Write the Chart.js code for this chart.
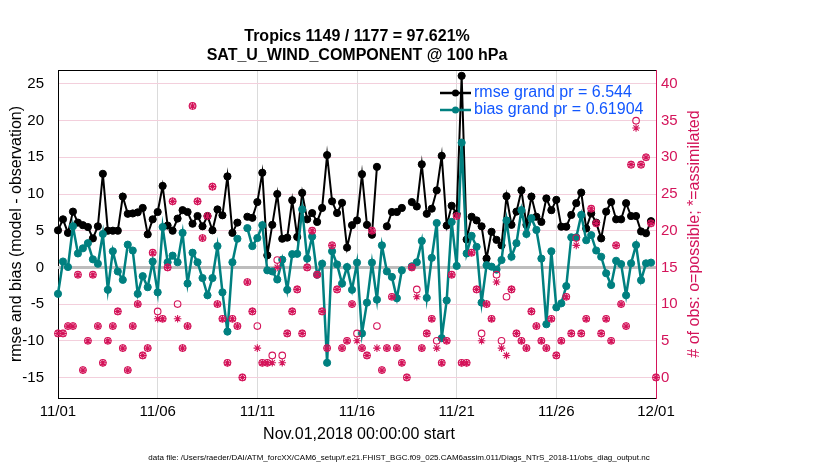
<!DOCTYPE html>
<html>
<head>
<meta charset="utf-8">
<script src="https://cdn.jsdelivr.net/npm/chart.js@4.4.1/dist/chart.umd.min.js"></script>
<style>
  html, body { margin: 0; padding: 0; background: #fff; }
  canvas { display: block; }
</style>
</head>
<body>
<canvas id="chart" width="830" height="470"></canvas>
<script>
// 6-hourly bins from 11/01 00Z to 12/01 00Z (121 bins)
const X_TICK_LABELS = ['11/01', '11/06', '11/11', '11/16', '11/21', '11/26', '12/01'];
const LEFT_TICKS = [-15, -10, -5, 0, 5, 10, 15, 20, 25];

const RMSE = [
  5.05, 6.55, 4.7, 7.6, 6.1, 5.75, 5.5, 3.95, 5.6, 12.75,
  5.0, 5.0, 5.0, 9.65, 7.3, 7.35, 7.5, 8.1, 4.5, 6.55,
  7.55, 11.1, 5.7, 5.0, 6.65, 7.8, 7.55, 5.95, 7.0, 5.6,
  7.0, 5.05, 7.9, 7.1, 12.4, 4.7, 6.1, null, 6.9, 6.75,
  8.9, 12.9, 1.65, 5.8, 10.0, 3.9, 4.05, 9.15, 4.15, 10.15,
  6.55, 7.4, 6.2, 8.1, 15.3, 9.0, 7.4, 8.8, 2.7, 5.75,
  6.4, 12.7, 5.8, 4.45, 13.7, null, 5.6, 7.55, 7.55, 8.1,
  null, 8.9, 8.3, 14.05, 7.3, 8.0, 10.5, 15.2, 5.7, 8.4,
  7.3, 26.1, 3.8, 6.9, 6.4, 5.6, 1.2, 4.85, 3.75, 3.0,
  9.7, 5.8, 7.6, 10.5, 5.8, 9.65, 6.9, 6.2, 9.4, 7.8,
  9.2, 5.55, 5.55, 7.15, 8.75, 10.2, 5.3, 7.35, 6.1, 3.95,
  7.6, 8.9, 6.55, 6.55, 8.75, 7.0, 7.0, 4.9, 4.65, 6.3,
  null
];

const BIAS = [
  -3.6, 0.8, 0.05, 5.6, 1.9, 2.6, 3.3, 1.1, 0.5, 4.55,
  -3.05, 2.2, -0.55, -1.7, 3.1, 2.3, -3.6, -1.2, -2.7, 0.8,
  -3.4, 5.5, 0.7, 1.6, 0.7, 4.7, -2.2, 2.0, 0.7, -1.45,
  -3.8, -1.45, 2.9, -3.4, -8.75, 0.7, 3.9, null, 5.35, 2.9,
  4.0, 5.75, -0.4, -0.55, -1.65, 1.05, -3.05, 1.8, 1.85, 7.9,
  1.2, 4.2, -1.0, 0.5, -13.0, 2.2, 0.4, -2.2, 0.05, -3.05,
  0.65, -9.0, -4.8, 0.65, -4.4, 3.0, -0.55, -1.3, -4.2, -0.4,
  null, 0.15, 0.7, 3.6, -4.15, 1.3, 6.05, -9.65, -4.5, 6.2,
  0.2, 17.0, 1.9, 4.3, 2.8, -4.8, 0.3, 0.1, -0.3, 1.0,
  6.4, 1.45, 3.3, 7.8, 4.55, 6.7, 5.1, 1.2, -7.75, 2.2,
  -5.45, -4.9, -2.55, 4.1, 4.1, 7.15, 3.7, 4.4, 2.3, 1.45,
  -0.8, -2.4, 0.9, 0.45, -3.8, 0.55, 3.05, -1.75, 0.55, 0.65,
  null
];

const OBS_POSSIBLE = [
  6, 6, 7, 7, 14, 1, 5, 14, 7, 2,
  5, 7, 9, 4, 1, 7, 10, 3, 4, 17,
  9, 8, 15, 24, 10, 4, 7, 37, 24, 19,
  22, 26, 10, 8, 2, 8, 7, 0, 13, 9,
  7, 2, 2, 3, 16, 3, 6, 9, 12, 6,
  15, 20, 14, 9, 4, 18, 12, 4, 5, 10,
  6, 4, 3, 20, 7, 1, 4, 11, 4, 2,
  0, 15, 12, 4, 6, 8, 5, 2, 5, 14,
  22, 2, 2, 17, 12, 6, 10, 8, 14, 5,
  11, 12, 6, 5, 4, 9, 7, 5, 4, 8,
  3, 5, 11, 6, 19, 6, 8, 23, 21, 6,
  8, 5, 18, 10, 7, 29, 35, 29, 30, 21,
  0
];

const OBS_USED = [
  6, 6, 7, 7, 14, 1, 5, 14, 7, 2,
  5, 7, 9, 4, 1, 7, 10, 3, 4, 17,
  8, 8, 15, 24, 8, 4, 7, 37, 24, 19,
  22, 26, 10, 8, 2, 8, 7, 0, 13, 9,
  4, 2, 2, 2, 15, 2, 6, 9, 12, 6,
  15, 20, 14, 9, 4, 18, 12, 4, 5, 10,
  5, 4, 3, 20, 4, 1, 4, 11, 4, 2,
  0, 15, 11, 4, 6, 8, 4, 2, 5, 14,
  22, 2, 2, 17, 12, 5, 10, 8, 13, 4,
  3, 12, 6, 5, 4, 9, 7, 5, 4, 8,
  3, 5, 11, 6, 18, 6, 8, 23, 21, 6,
  8, 5, 18, 10, 7, 29, 34, 29, 30, 21,
  0
];

const TITLE = ['Tropics 1149 / 1177 = 97.621%', 'SAT_U_WIND_COMPONENT @ 100 hPa'];
const LEGEND = ['rmse grand pr = 6.544', 'bias grand pr = 0.61904'];
const X_TITLE = 'Nov.01,2018 00:00:00 start';
const Y_TITLE = 'rmse and bias (model - observation)';
const Y1_TITLE = '# of obs: o=possible; *=assimilated';
const FOOTNOTE = 'data file: /Users/raeder/DAI/ATM_forcXX/CAM6_setup/f.e21.FHIST_BGC.f09_025.CAM6assim.011/Diags_NTrS_2018-11/obs_diag_output.nc';

const FONT = '"Liberation Sans", Arial, Helvetica, sans-serif';
const CRIMSON = '#d4145a';
const TEAL = '#008080';
const LEGEND_BLUE = '#1257ff';

// x in days since 11/01 00Z, one bin every 6 hours
const toPoints = (values) => values.map((v, i) => ({ x: i / 4, y: v }));

const decorations = {
    id: 'decorations',
    beforeDatasetsDraw(chart) {
        const { ctx, chartArea: a, scales } = chart;
        const y0 = scales.y.getPixelForValue(0);
        ctx.save();
        ctx.strokeStyle = '#bdbdbd';
        ctx.lineWidth = 3;
        ctx.beginPath();
        ctx.moveTo(a.left, y0);
        ctx.lineTo(a.right, y0);
        ctx.stroke();
        ctx.restore();
    },
    afterDraw(chart) {
        const { ctx, chartArea: a } = chart;
        const cx = (a.left + a.right) / 2;
        ctx.save();

        // top edge of the box
        ctx.strokeStyle = '#000';
        ctx.lineWidth = 1;
        ctx.beginPath();
        ctx.moveTo(a.left, a.top + 0.5);
        ctx.lineTo(a.right, a.top + 0.5);
        ctx.stroke();

        ctx.textBaseline = 'middle';
        ctx.textAlign = 'center';
        ctx.fillStyle = '#000';
        ctx.font = 'bold 16px ' + FONT;
        ctx.fillText(TITLE[0], cx, 37);
        ctx.fillText(TITLE[1], cx, 56);

        ctx.font = '16px ' + FONT;
        ctx.fillText(X_TITLE, cx + 2, 435);

        ctx.save();
        ctx.translate(17, (a.top + a.bottom) / 2);
        ctx.rotate(-Math.PI / 2);
        ctx.fillText(Y_TITLE, 0, 0);
        ctx.restore();

        ctx.save();
        ctx.fillStyle = CRIMSON;
        ctx.translate(695, (a.top + a.bottom) / 2);
        ctx.rotate(-Math.PI / 2);
        ctx.fillText(Y1_TITLE, 0, 0);
        ctx.restore();

        ctx.font = '8px ' + FONT;
        ctx.fillText(FOOTNOTE, 399, 458);

        // legend, top right inside the axes
        const rows = [{ color: '#000', y: 93 }, { color: TEAL, y: 110 }];
        rows.forEach((r, i) => {
            ctx.strokeStyle = r.color;
            ctx.fillStyle = r.color;
            ctx.lineWidth = 2.5;
            ctx.beginPath();
            ctx.moveTo(440, r.y);
            ctx.lineTo(471, r.y);
            ctx.stroke();
            ctx.beginPath();
            ctx.arc(455.5, r.y, 3.5, 0, Math.PI * 2);
            ctx.fill();
            ctx.fillStyle = LEGEND_BLUE;
            ctx.textAlign = 'left';
            ctx.font = '16px ' + FONT;
            ctx.fillText(LEGEND[i], 474, r.y);
        });

        ctx.restore();
    }
};

new Chart(document.getElementById('chart').getContext('2d'), {
    type: 'line',
    data: {
        datasets: [
            {
                label: 'possible',
                data: toPoints(OBS_POSSIBLE),
                yAxisID: 'y1',
                showLine: false,
                pointStyle: 'circle',
                pointRadius: 3.3,
                pointBorderWidth: 1.1,
                pointBorderColor: CRIMSON,
                pointBackgroundColor: 'rgba(0,0,0,0)',
                clip: false,
                order: 0,
            },
            {
                label: 'assimilated',
                data: toPoints(OBS_USED),
                yAxisID: 'y1',
                showLine: false,
                pointStyle: 'star',
                pointRadius: 3.8,
                pointBorderWidth: 1.1,
                pointBorderColor: CRIMSON,
                pointBackgroundColor: CRIMSON,
                clip: false,
                order: 1,
            },
            {
                label: 'bias',
                data: toPoints(BIAS),
                yAxisID: 'y',
                borderColor: TEAL,
                borderWidth: 2.5,
                pointRadius: 3.6,
                pointBorderWidth: 1,
                pointBorderColor: TEAL,
                pointBackgroundColor: TEAL,
                clip: false,
                order: 2,
            },
            {
                label: 'rmse',
                data: toPoints(RMSE),
                yAxisID: 'y',
                borderColor: '#000',
                borderWidth: 2,
                pointRadius: 3.6,
                pointBorderWidth: 1,
                pointBorderColor: '#000',
                pointBackgroundColor: '#000',
                clip: false,
                order: 3,
            },
        ],
    },
    options: {
        responsive: false,
        animation: false,
        devicePixelRatio: 1,
        layout: { padding: { top: 70, left: 0, right: 0, bottom: 0 } },
        plugins: {
            legend: { display: false },
            title: { display: false },
            tooltip: { enabled: false },
        },
        elements: { line: { tension: 0 } },
        scales: {
            x: {
                type: 'linear',
                min: 0,
                max: 30,
                offset: false,
                afterFit: (scale) => { scale.height = 72; },
                border: { color: '#000', width: 1 },
                grid: { color: 'rgba(0,0,0,0.14)', drawTicks: false },
                ticks: {
                    stepSize: 5,
                    padding: 5,
                    maxRotation: 0,
                    color: '#000',
                    font: { family: FONT, size: 15 },
                    callback: (v) => X_TICK_LABELS[v / 5],
                },
            },
            y: {
                type: 'linear',
                position: 'left',
                min: -17.8,
                max: 26.9,
                afterFit: (scale) => { scale.width = 58; },
                border: { color: '#000', width: 1 },
                grid: { display: false },
                ticks: {
                    stepSize: 5,
                    includeBounds: false,
                    padding: 6,
                    color: '#000',
                    font: { family: FONT, size: 15 },
                    callback: (v) => (LEFT_TICKS.includes(v) ? String(v) : ''),
                },
            },
            y1: {
                type: 'linear',
                position: 'right',
                min: -2.8,
                max: 41.9,
                afterFit: (scale) => { scale.width = 830 - 656; },
                border: { color: CRIMSON, width: 1 },
                grid: { color: '#f3cfdc', drawTicks: false },
                ticks: {
                    stepSize: 5,
                    includeBounds: false,
                    padding: 5,
                    color: CRIMSON,
                    font: { family: FONT, size: 15 },
                },
            },
        },
    },
    plugins: [decorations],
});
</script>
</body>
</html>
